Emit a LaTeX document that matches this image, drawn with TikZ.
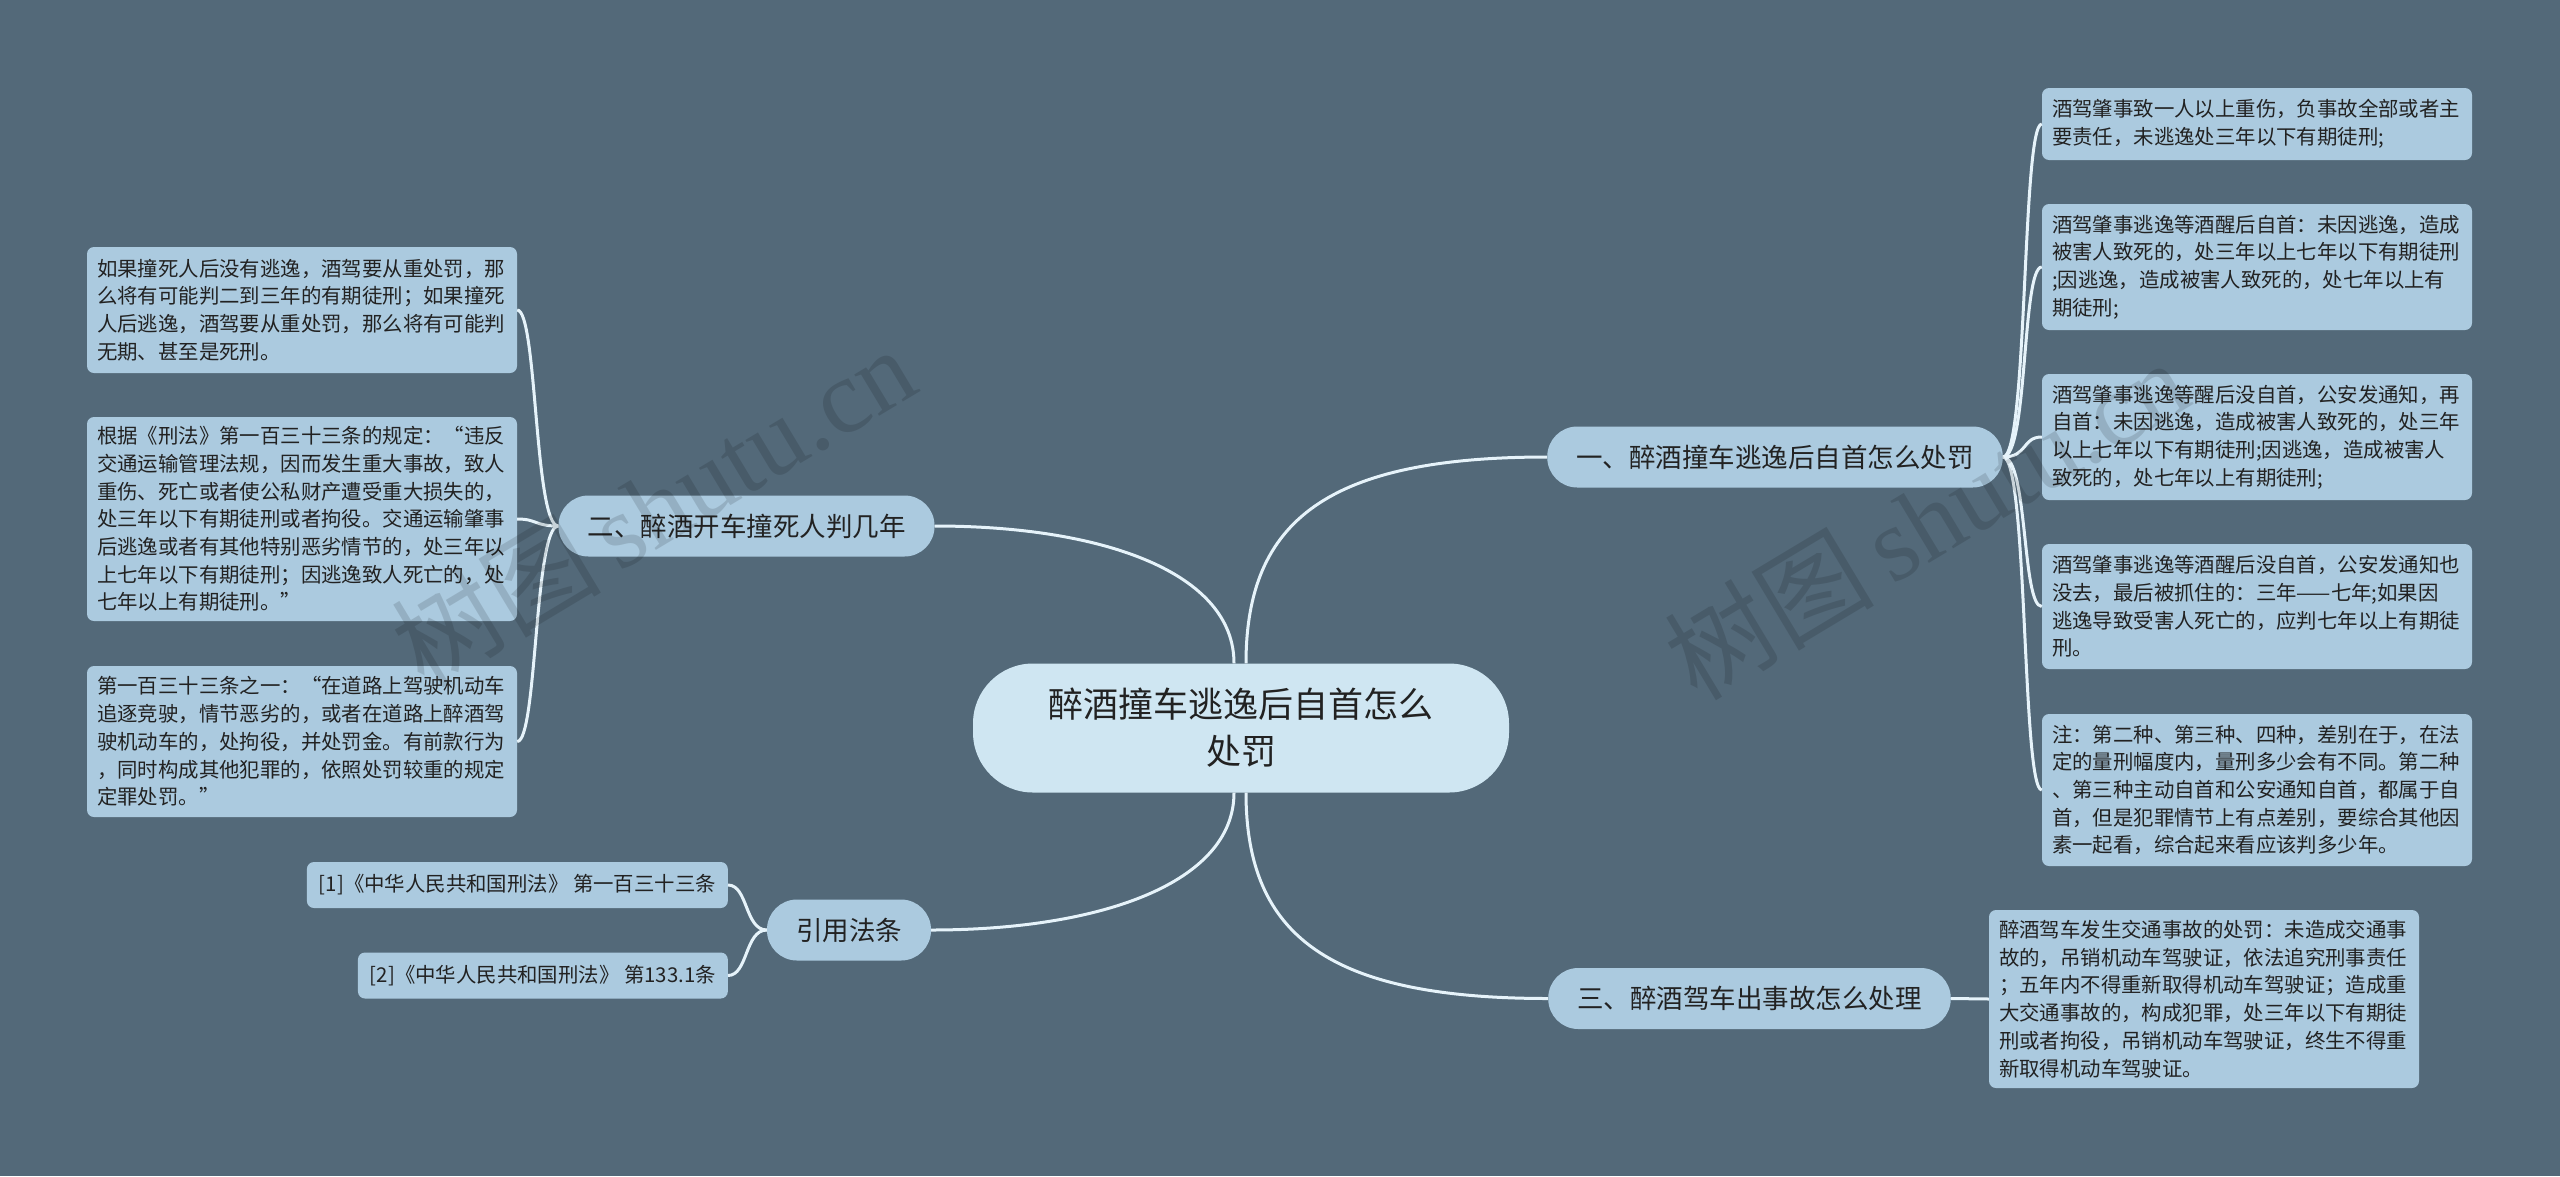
\documentclass[tikz,border=0pt]{standalone}
\usepackage{fontspec}
\setmainfont{Noto Sans CJK SC}
\newfontfamily\wmlatin{Liberation Serif}
\newfontfamily\wmcjk{Noto Sans CJK SC}
\usetikzlibrary{calc}
\definecolor{bg}{HTML}{536979}
\definecolor{leaffill}{HTML}{ABCADF}
\definecolor{rootfill}{HTML}{CFE6F2}
\definecolor{linec}{HTML}{E6F3FA}
\definecolor{txt}{HTML}{222222}
\begin{document}
\begin{tikzpicture}[x=1pt,y=-1pt,
  leaf/.style={fill=leaffill, rounded corners=7pt, text=txt,
    font=\fontsize{20.4}{27.7}\selectfont, align=left,
    text width=410pt, inner xsep=10pt, inner ysep=0pt},
  refbox/.style={fill=leaffill, rounded corners=7pt, text=txt,
    font=\fontsize{20.4}{27.7}\selectfont, inner xsep=12pt, inner ysep=0pt,
    minimum height=46pt, anchor=east},
  branch/.style={fill=leaffill, rounded corners=30pt, text=txt,
    font=\fontsize{26.5}{32}\selectfont, inner xsep=29pt, inner ysep=0pt,
    minimum height=61pt},
  rootbox/.style={fill=rootfill, rounded corners=60pt, text=txt,
    font=\fontsize{35}{47}\selectfont, align=center,
    minimum width=536pt, minimum height=129pt},
  conn/.style={draw=linec, line width=3pt},
  wm/.style={text=black, opacity=0.13, rotate=31}
]
\fill[bg] (0,0) rectangle (2560,1176);

% root
\node[rootbox] (c) at (1241,728) {醉酒撞车逃逸后自首怎么\\处罚};

% branches
\node[branch] (b1) at (1775,457) {一、醉酒撞车逃逸后自首怎么处罚};
\node[branch] (b2) at (746.5,526) {二、醉酒开车撞死人判几年};
\node[branch] (b3) at (1749.5,998.5) {三、醉酒驾车出事故怎么处理};
\node[branch] (b4) at (849,930) {引用法条};

% left leaves
\node[leaf, minimum height=126pt] (l1) at (302,310) {如果撞死人后没有逃逸，酒驾要从重处罚，那\\么将有可能判二到三年的有期徒刑；如果撞死\\人后逃逸，酒驾要从重处罚，那么将有可能判\\无期、甚至是死刑。};
\node[leaf, minimum height=204pt] (l2) at (302,519) {根据《刑法》第一百三十三条的规定：“违反\\交通运输管理法规，因而发生重大事故，致人\\重伤、死亡或者使公私财产遭受重大损失的，\\处三年以下有期徒刑或者拘役。交通运输肇事\\后逃逸或者有其他特别恶劣情节的，处三年以\\上七年以下有期徒刑；因逃逸致人死亡的，处\\七年以上有期徒刑。”};
\node[leaf, minimum height=151pt] (l3) at (302,741.5) {第一百三十三条之一：“在道路上驾驶机动车\\追逐竞驶，情节恶劣的，或者在道路上醉酒驾\\驶机动车的，处拘役，并处罚金。有前款行为\\，同时构成其他犯罪的，依照处罚较重的规定\\定罪处罚。”};

% references
\node[refbox] (r1) at (728,885) {[1]《中华人民共和国刑法》 第一百三十三条};
\node[refbox] (r2) at (728,975.5) {[2]《中华人民共和国刑法》 第133.1条};

% right leaves
\node[leaf, minimum height=72pt] (k1) at (2257,124) {酒驾肇事致一人以上重伤，负事故全部或者主\\要责任，未逃逸处三年以下有期徒刑;};
\node[leaf, minimum height=126pt] (k2) at (2257,267) {酒驾肇事逃逸等酒醒后自首：未因逃逸，造成\\被害人致死的，处三年以上七年以下有期徒刑\\;因逃逸，造成被害人致死的，处七年以上有\\期徒刑;};
\node[leaf, minimum height=126pt] (k3) at (2257,437) {酒驾肇事逃逸等醒后没自首，公安发通知，再\\自首：未因逃逸，造成被害人致死的，处三年\\以上七年以下有期徒刑;因逃逸，造成被害人\\致死的，处七年以上有期徒刑;};
\node[leaf, minimum height=125pt] (k4) at (2257,606.5) {酒驾肇事逃逸等酒醒后没自首，公安发通知也\\没去，最后被抓住的：三年——七年;如果因\\逃逸导致受害人死亡的，应判七年以上有期徒\\刑。};
\node[leaf, minimum height=152pt] (k5) at (2257,790) {注：第二种、第三种、四种，差别在于，在法\\定的量刑幅度内，量刑多少会有不同。第二种\\、第三种主动自首和公安通知自首，都属于自\\首，但是犯罪情节上有点差别，要综合其他因\\素一起看，综合起来看应该判多少年。};
\node[leaf, minimum height=178pt] (m1) at (2204,999) {醉酒驾车发生交通事故的处罚：未造成交通事\\故的，吊销机动车驾驶证，依法追究刑事责任\\；五年内不得重新取得机动车驾驶证；造成重\\大交通事故的，构成犯罪，处三年以下有期徒\\刑或者拘役，吊销机动车驾驶证，终生不得重\\新取得机动车驾驶证。};

% root connectors
\draw[conn] ($(c.north)+(5,0)$) .. controls +(0,-144) and +(-218,0) .. (b1.west);
\draw[conn] ($(c.north)+(-7,0)$) .. controls +(0,-90) and +(170,0) .. (b2.east);
\draw[conn] ($(c.south)+(5,0)$) .. controls +(0,144) and +(-218,0) .. (b3.west);
\draw[conn] ($(c.south)+(-7,0)$) .. controls +(0,90) and +(170,0) .. (b4.east);

% branch 1 to leaves
\foreach \k in {k1,k2,k3,k4,k5}
  \draw[conn] (b1.east) .. controls +(25,0) and +(-20,0) .. (\k.west);
% branch 2 to leaves
\foreach \k in {l1,l2,l3}
  \draw[conn] (b2.west) .. controls +(-24,0) and +(20,0) .. (\k.east);
% references
\foreach \k in {r1,r2}
  \draw[conn] (b4.west) .. controls +(-22,0) and +(20,0) .. (\k.east);
% branch 3
\draw[conn] (b3.east) -- (m1.west);

% watermarks
\node[wm] (w1) at (653,506) {\fontsize{105}{110}\selectfont\wmcjk 树图\,\wmlatin shutu.cn};
\node[wm] (w2) at (1926,519) {\fontsize{105}{110}\selectfont\wmcjk 树图\,\wmlatin shutu.cn};
\end{tikzpicture}
\end{document}
